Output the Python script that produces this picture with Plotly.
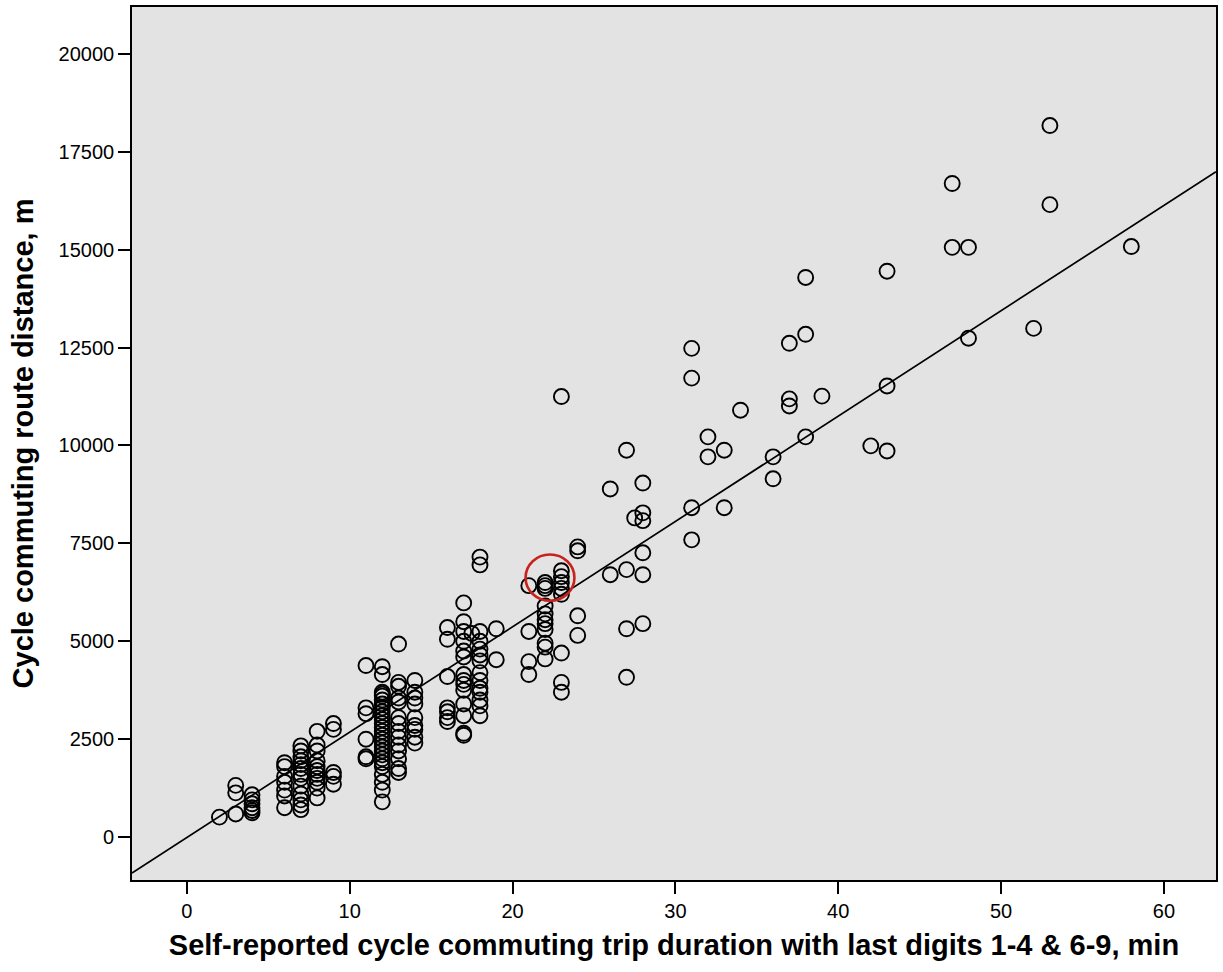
import plotly.graph_objects as go

# ---- data (duration, min ; distance, m) grouped by duration ----
groups = {
    2: [510],
    3: [1320, 1130, 590],
    4: [1080, 950, 850, 750, 680, 620],
    6: [1900, 1800, 1550, 1400, 1200, 1050, 750],
    7: [2330, 2200, 2050, 1950, 1850, 1750, 1600, 1500, 1300, 1100, 950, 820, 700],
    8: [2700, 2350, 2200, 1950, 1800, 1700, 1600, 1500, 1400, 1250, 1000],
    9: [2900, 2750, 1650, 1550, 1350],
    11: [4380, 3300, 3150, 2500, 2050, 2000],
    12: [4350, 4150, 3700, 3650, 3600, 3500, 3400, 3300, 3200, 3100, 3000, 2900,
         2800, 2700, 2600, 2500, 2400, 2300, 2200, 2100, 2000, 1900, 1800, 1600,
         1400, 1200, 900],
    13: [4930, 3950, 3850, 3550, 3450, 3050, 2900, 2700, 2550, 2350, 2200, 2000,
         1750, 1650],
    14: [4000, 3700, 3550, 3400, 3050, 2850, 2750, 2550, 2400],
    16: [5350, 5050, 4100, 3300, 3200, 3050, 2950],
    17: [5980, 5500, 5250, 5000, 4750, 4600, 4150, 4000, 3900, 3750, 3400, 3100,
         2650, 2600],
    17.5: [5200],
    18: [7150, 6950, 5250, 5000, 4800, 4650, 4500, 4200, 4000, 3800, 3700, 3500,
         3350, 3100],
    19: [5320, 4530],
    21: [6420, 5250, 4480, 4150],
    22: [6500, 6420, 6350, 5900, 5700, 5550, 5450, 5300, 4950, 4850, 4550],
    23: [11250, 6800, 6650, 6500, 6350, 6200, 4700, 3950, 3700],
    24: [7410, 7310, 5650, 5150],
    26: [8890, 6700],
    27: [9880, 6830, 5320, 4080],
    27.5: [8150],
    28: [9040, 8280, 8080, 7260, 6700, 5450],
    31: [12480, 11720, 8410, 7590],
    32: [10220, 9710],
    33: [9880, 8410],
    34: [10900],
    36: [9710, 9150],
    37: [12610, 11190, 11010],
    38: [14290, 12840, 10220],
    39: [11260],
    42: [9990],
    43: [14450, 11520, 9860],
    47: [16690, 15060],
    48: [15060, 12740],
    52: [12990],
    53: [18170, 16150],
    58: [15080],
}
duration = [k for k, vals in groups.items() for _ in vals]
distance = [v for vals in groups.values() for v in vals]

# fitted line parameters
LINE_SLOPE = 269.0
LINE_INTERCEPT = -10.0

X_RANGE = [-3.37, 63.2]
Y_RANGE = [-1096, 21197]
x_ticks = [0, 10, 20, 30, 40, 50, 60]
y_ticks = [0, 2500, 5000, 7500, 10000, 12500, 15000, 17500, 20000]

# highlighted group (red ellipse)
HL_X, HL_Y, HL_RX, HL_RY = 22.3, 6625, 1.5, 590

fig = go.Figure()
fig.add_trace(go.Scatter(
    x=X_RANGE, y=[LINE_INTERCEPT + LINE_SLOPE * v for v in X_RANGE],
    mode="lines", line=dict(color="black", width=1.7),
    hoverinfo="skip", showlegend=False))
fig.add_trace(go.Scatter(
    x=duration, y=distance, mode="markers",
    marker=dict(symbol="circle-open", size=15, color="black",
                line=dict(color="black", width=1.9)),
    showlegend=False))

fig.add_shape(type="circle", xref="x", yref="y",
              x0=HL_X - HL_RX, x1=HL_X + HL_RX, y0=HL_Y - HL_RY, y1=HL_Y + HL_RY,
              line=dict(color="#c8221c", width=2.6))

fig.update_layout(
    width=1223, height=972,
    margin=dict(l=132, r=5, t=6, b=92),
    paper_bgcolor="white", plot_bgcolor="#e3e3e3",
    font=dict(family="Liberation Sans, Arial", color="black"),
)
fig.update_xaxes(
    range=X_RANGE, tickvals=x_ticks, ticks="outside", ticklen=12, tickwidth=1.5,
    tickcolor="black", showgrid=False, zeroline=False,
    showline=True, linecolor="black", linewidth=1.6, mirror=True,
    tickfont=dict(family="Liberation Sans", size=20),
    title=dict(text="<b>Self-reported cycle commuting trip duration with last digits 1-4 &amp; 6-9, min</b>",
               font=dict(family="Liberation Sans", size=29), standoff=14),
)
fig.update_yaxes(
    range=Y_RANGE, tickvals=y_ticks, tickformat="d", ticks="outside", ticklen=12, tickwidth=1.5,
    tickcolor="black", showgrid=False, zeroline=False,
    showline=True, linecolor="black", linewidth=1.6, mirror=True,
    tickfont=dict(family="Liberation Sans", size=20),
    title=dict(text="<b>Cycle commuting route distance, m</b>",
               font=dict(family="Liberation Sans", size=29), standoff=16),
)

fig.write_html("out.html")
